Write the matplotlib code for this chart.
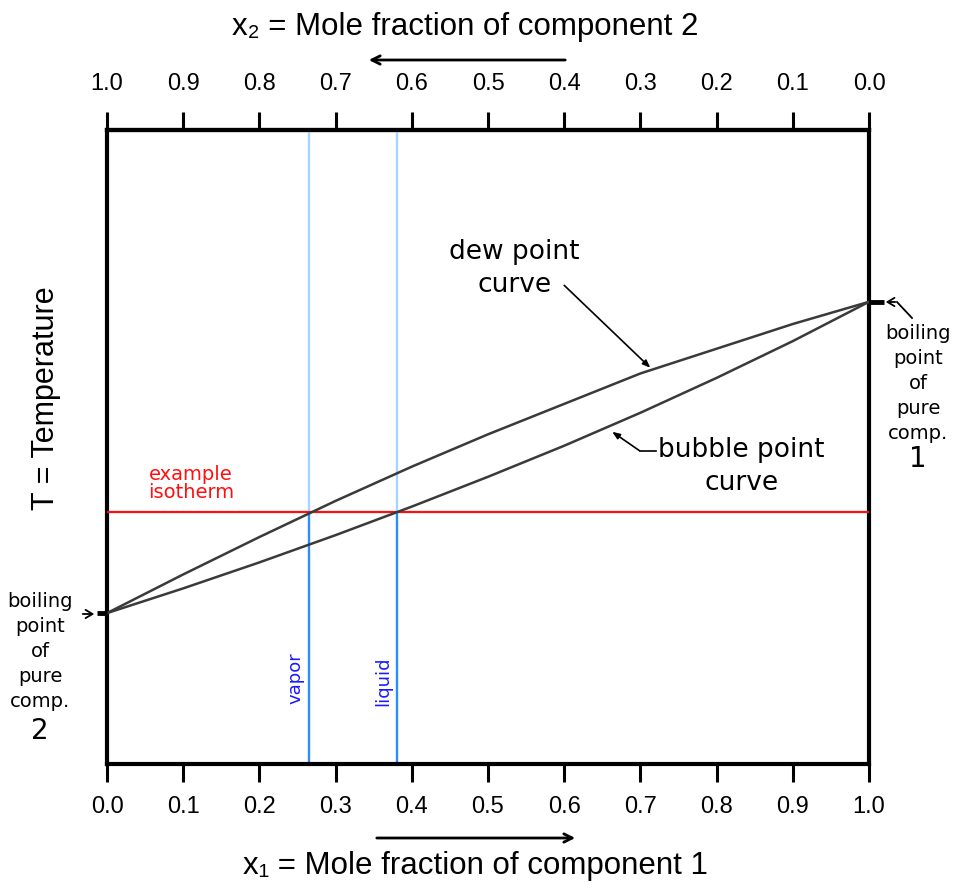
import matplotlib
matplotlib.use("Agg")
import matplotlib.pyplot as plt
from matplotlib.ticker import FixedLocator, FormatStrFormatter
from matplotlib.patches import FancyArrowPatch
from matplotlib.lines import Line2D

# ---- data ----
x1_grid = [0.0, 0.1, 0.2, 0.3, 0.4, 0.5, 0.6, 0.7, 0.8, 0.9, 1.0]
dew_T = [0.238, 0.299, 0.358, 0.415, 0.469, 0.520, 0.568, 0.616, 0.655, 0.694, 0.729]
bubble_T = [0.238, 0.277, 0.318, 0.361, 0.406, 0.453, 0.502, 0.554, 0.609, 0.667, 0.729]
isotherm_T = 0.397
vapor_x = 0.265
liquid_x = 0.38
tick_values = [0.0, 0.1, 0.2, 0.3, 0.4, 0.5, 0.6, 0.7, 0.8, 0.9, 1.0]

W, H = 957, 888
fig = plt.figure(figsize=(W / 100, H / 100), dpi=100)
ax = fig.add_axes([107 / W, 1 - 764 / H, (869 - 107) / W, (764 - 130) / H])
ax.set_xlim(0, 1)
ax.set_ylim(0, 1)

narrow = ['Liberation Sans', 'DejaVu Sans']
gui = ['DejaVu Sans']

def fx(px):
    return px / W

def fy(py):
    return 1 - py / H

# curves
ax.plot(x1_grid, dew_T, color='#3a3a3a', lw=1.8, zorder=4)
ax.plot(x1_grid, bubble_T, color='#3a3a3a', lw=1.8, zorder=4)

# isotherm
ax.plot([0, 1], [isotherm_T, isotherm_T], color='#ff1010', lw=1.6, zorder=3)

# vertical composition lines
for xv in (vapor_x, liquid_x):
    ax.plot([xv, xv], [0, isotherm_T], color='#2b8cff', lw=1.7, zorder=2)
    ax.plot([xv, xv], [isotherm_T, 1], color='#a9d3ff', lw=1.7, zorder=2)

ax.text(vapor_x - 0.018, 0.135, 'vapor', rotation=90, color='#1a1aff',
        fontsize=13, family=gui, ha='center', va='center')
ax.text(liquid_x - 0.018, 0.13, 'liquid', rotation=90, color='#1a1aff',
        fontsize=13, family=gui, ha='center', va='center')

ax.text(0.11, isotherm_T + 0.045, 'example\nisotherm', color='#ff1010',
        fontsize=14, family=gui, ha='center', va='center', linespacing=0.95)

# spines & ticks
for s in ax.spines.values():
    s.set_linewidth(3.0)
ax.set_yticks([])
ax.xaxis.set_major_locator(FixedLocator(tick_values))
ax.xaxis.set_major_formatter(FormatStrFormatter('%.1f'))
ax.tick_params(axis='x', direction='out', length=13, width=2.2, pad=10,
               labelsize=17)
for lab in ax.get_xticklabels():
    lab.set_family(narrow)

top = ax.secondary_xaxis('top', functions=(lambda v: 1 - v, lambda v: 1 - v))
top.xaxis.set_major_locator(FixedLocator(tick_values))
top.xaxis.set_major_formatter(FormatStrFormatter('%.1f'))
top.tick_params(axis='x', direction='out', length=13, width=2.2, pad=12,
                labelsize=17)
top.spines['top'].set_linewidth(3.0)
for lab in top.get_xticklabels():
    lab.set_family(narrow)

# axis titles
fig.text(fx(475), fy(866), 'x\u2081 = Mole fraction of component 1', fontsize=22.5,
         family=narrow, ha='center', va='center')
fig.text(fx(465), fy(27), 'x\u2082 = Mole fraction of component 2', fontsize=22.5,
         family=narrow, ha='center', va='center')
fig.text(fx(46), fy(398), 'T = Temperature', fontsize=22, rotation=90,
         family=['Liberation Sans', 'DejaVu Sans'], ha='center', va='center')

# direction arrows
fig.add_artist(FancyArrowPatch(
    (fx(568), fy(60)), (fx(366), fy(60)), transform=fig.transFigure,
    arrowstyle='->,head_length=6,head_width=3', lw=2, color='black',
    mutation_scale=1))
fig.add_artist(FancyArrowPatch(
    (fx(374), fy(838)), (fx(578), fy(838)), transform=fig.transFigure,
    arrowstyle='->,head_length=6,head_width=3', lw=2, color='black',
    mutation_scale=1))

# curve labels
ax.text(0.535, 0.782, 'dew point\ncurve', fontsize=19, family=gui,
        ha='center', va='center', linespacing=1.35)
ax.annotate('', xy=(0.713, 0.625), xycoords='data',
            xytext=(0.60, 0.755), textcoords='data',
            arrowprops=dict(arrowstyle='-|>,head_length=0.45,head_width=0.18',
                            color='black', lw=1.2, shrinkA=0, shrinkB=0))

ax.text(0.833, 0.47, 'bubble point\ncurve', fontsize=19, family=gui,
        ha='center', va='center', linespacing=1.35)
ax.add_line(Line2D([0.72, 0.699], [0.494, 0.494], color='black', lw=1.2))
ax.annotate('', xy=(0.663, 0.524), xycoords='data',
            xytext=(0.699, 0.494), textcoords='data',
            arrowprops=dict(arrowstyle='-|>,head_length=0.45,head_width=0.18',
                            color='black', lw=1.2, shrinkA=0, shrinkB=0))

# boiling points
ax.plot([-0.013, 0.0], [dew_T[0], dew_T[0]], color='black', lw=3.5,
        clip_on=False, solid_capstyle='butt', zorder=6)
ax.plot([1.0, 1.02], [dew_T[-1], dew_T[-1]], color='black', lw=3.5,
        clip_on=False, solid_capstyle='butt', zorder=6)

fig.text(fx(40), fy(651), 'boiling\npoint\nof\npure\ncomp.', fontsize=14,
         family=gui, ha='center', va='center', linespacing=1.4)
fig.text(fx(40), fy(731), '2', fontsize=20, family=gui, ha='center', va='center')
fig.text(fx(918), fy(383), 'boiling\npoint\nof\npure\ncomp.', fontsize=14,
         family=gui, ha='center', va='center', linespacing=1.4)
fig.text(fx(918), fy(459), '1', fontsize=20, family=gui, ha='center', va='center')

fig.add_artist(FancyArrowPatch(
    (fx(80), fy(614)), (fx(97), fy(614)), transform=fig.transFigure,
    arrowstyle='->,head_length=5,head_width=3', lw=1.3, color='black',
    mutation_scale=1))
fig.add_artist(Line2D([fx(912), fx(897)], [fy(318), fy(302)],
                      transform=fig.transFigure, color='black', lw=1.3))
fig.add_artist(FancyArrowPatch(
    (fx(898), fy(302)), (fx(883), fy(302)), transform=fig.transFigure,
    arrowstyle='->,head_length=5,head_width=3', lw=1.3, color='black',
    mutation_scale=1))

fig.savefig('out.png', dpi=100, facecolor='white')
